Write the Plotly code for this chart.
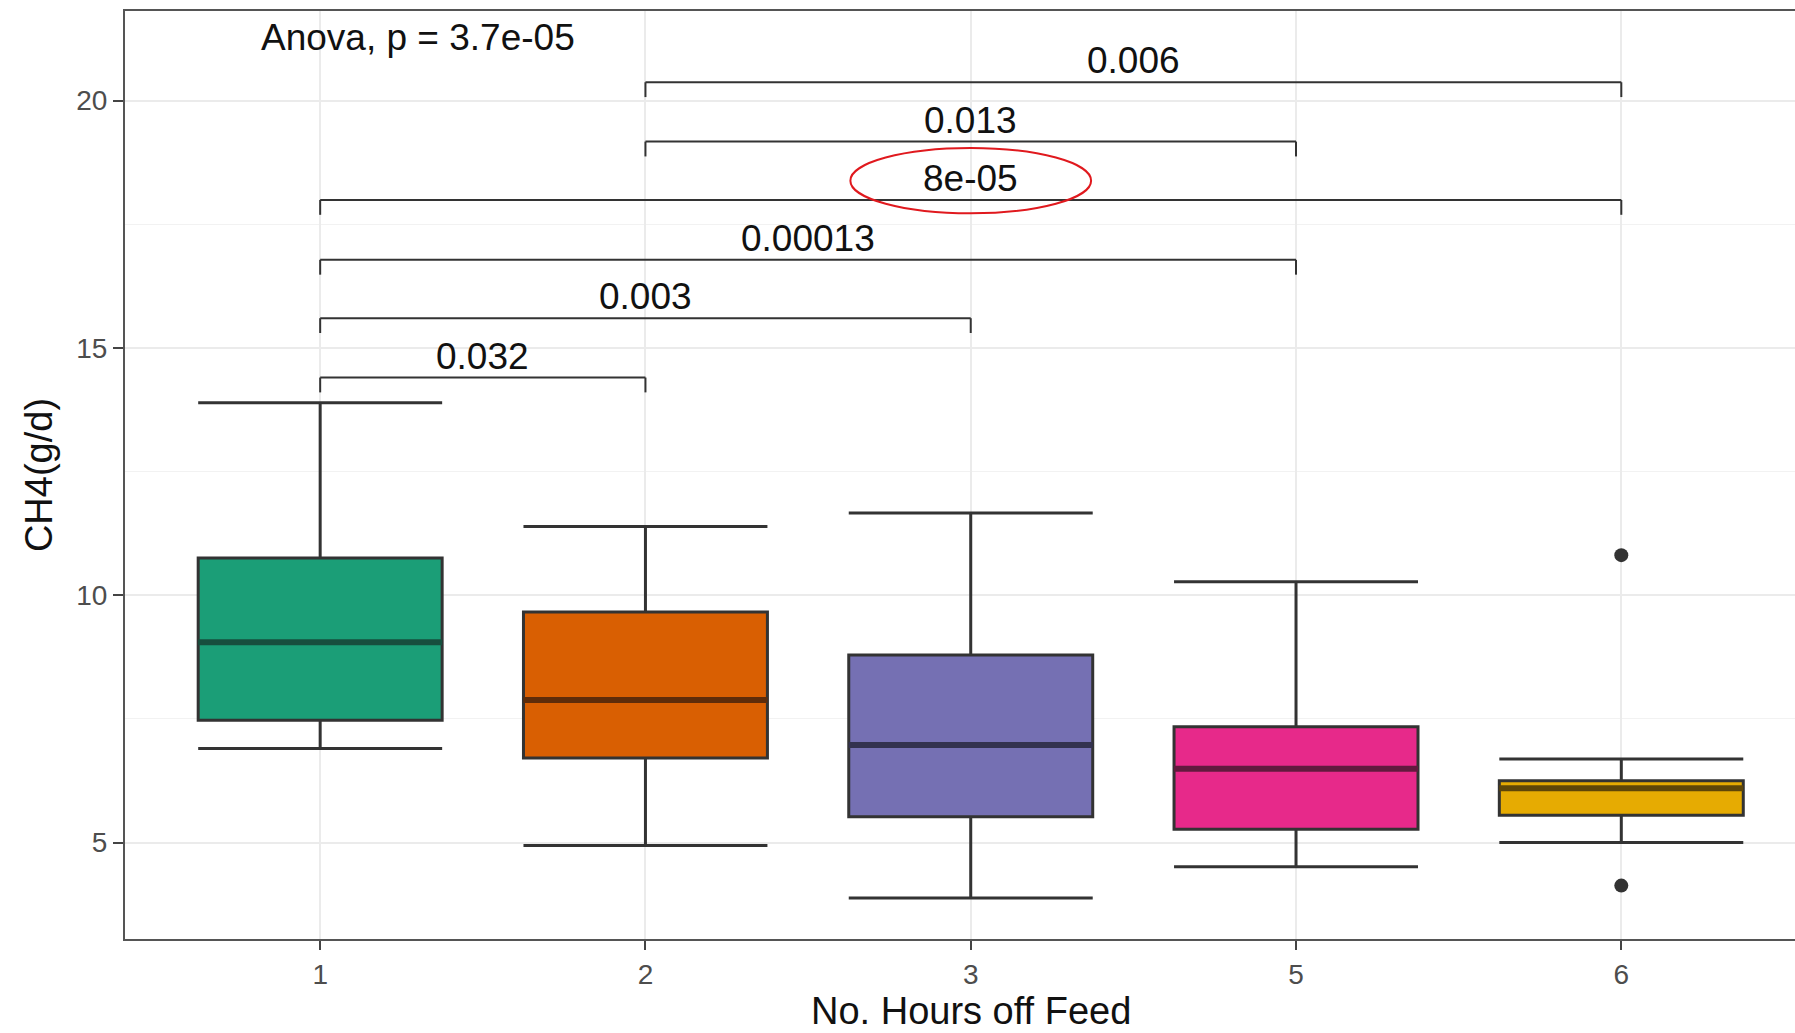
import plotly.graph_objects as go

# ---- data ----
categories = ["1", "2", "3", "5", "6"]
q1 = [7.47, 6.71, 5.52, 5.27, 5.55]
median = [9.05, 7.88, 6.97, 6.49, 6.10]
q3 = [10.75, 9.66, 8.79, 7.34, 6.25]
lower_whisker = [6.90, 4.94, 3.88, 4.51, 5.00]
upper_whisker = [13.89, 11.39, 11.66, 10.27, 6.69]
fill_colors = ["#1B9E77", "#D95F02", "#7570B3", "#E7298A", "#E6AB02"]
median_colors = ["#174F3E", "#5E2C0A", "#33324F", "#621A3E", "#5E4608"]

outlier_group = ["6", "6"]
outlier_values = [10.81, 4.13]

# pairwise comparisons: (group a, group b, bracket height, label)
cmp_a = ["1", "1", "1", "1", "2", "2"]
cmp_b = ["2", "3", "5", "6", "5", "6"]
cmp_y = [14.40, 15.60, 16.78, 17.99, 19.17, 20.37]
cmp_label = ["0.032", "0.003", "0.00013", "8e-05", "0.013", "0.006"]
highlight_label = "8e-05"

anova_text = "Anova, p = 3.7e-05"
x_title = "No. Hours off Feed"
y_title = "CH4(g/d)"

pos = {c: i + 1 for i, c in enumerate(categories)}
box_width = 0.75
tip = 0.3

fig = go.Figure()

for i, c in enumerate(categories):
    x = pos[c]
    fig.add_trace(go.Box(
        x=[x], q1=[q1[i]], median=[median[i]], q3=[q3[i]],
        lowerfence=[lower_whisker[i]], upperfence=[upper_whisker[i]],
        width=box_width, whiskerwidth=1,
        fillcolor=fill_colors[i],
        line=dict(color="#333333", width=3),
        boxpoints=False, showlegend=False, hoverinfo="skip",
    ))
    fig.add_trace(go.Scatter(
        x=[x - box_width / 2, x + box_width / 2], y=[median[i], median[i]],
        mode="lines", line=dict(color=median_colors[i], width=6),
        showlegend=False, hoverinfo="skip",
    ))

fig.add_trace(go.Scatter(
    x=[pos[g] for g in outlier_group], y=outlier_values, mode="markers",
    marker=dict(color="#333333", size=14), showlegend=False, hoverinfo="skip",
))

font_family = "Liberation Sans, Arial, sans-serif"
shapes = []
annotations = []
for a, b, yv, lab in zip(cmp_a, cmp_b, cmp_y, cmp_label):
    xa, xb = pos[a], pos[b]
    line = dict(color="#333333", width=2)
    shapes.append(dict(type="line", xref="x", yref="y", x0=xa, x1=xb, y0=yv, y1=yv, line=line))
    shapes.append(dict(type="line", xref="x", yref="y", x0=xa, x1=xa, y0=yv, y1=yv - tip, line=line))
    shapes.append(dict(type="line", xref="x", yref="y", x0=xb, x1=xb, y0=yv, y1=yv - tip, line=line))
    annotations.append(dict(x=(xa + xb) / 2, y=yv + 0.43, xref="x", yref="y",
                            text=lab, showarrow=False, xanchor="center", yanchor="middle",
                            font=dict(size=37, color="#111111", family=font_family)))
    if lab == highlight_label:
        xm = (xa + xb) / 2
        shapes.append(dict(type="circle", xref="x", yref="y",
                           x0=xm - 0.37, x1=xm + 0.37, y0=yv - 0.27, y1=yv + 1.05,
                           line=dict(color="#E0191E", width=2)))

annotations.append(dict(x=1.3, y=21.27, xref="x", yref="y", text=anova_text,
                        showarrow=False, xanchor="center", yanchor="middle",
                        font=dict(size=37, color="#111111", family=font_family)))

# x-axis title centred on the full (ggplot) panel, i.e. the middle category
annotations.append(dict(x=pos[categories[len(categories) // 2]], y=-0.078, xref="x", yref="paper",
                        text=x_title, showarrow=False, xanchor="center", yanchor="middle",
                        font=dict(size=38, color="#111111", family=font_family)))

fig.update_layout(
    width=1795, height=1033,
    margin=dict(l=125, r=0, t=11, b=94),
    paper_bgcolor="white", plot_bgcolor="white",
    boxmode="overlay",
    font=dict(family=font_family),
    shapes=shapes, annotations=annotations,
    xaxis=dict(
        range=[0.4, 5.534], tickmode="array",
        tickvals=[pos[c] for c in categories], ticktext=categories,
        ticks="outside", ticklen=9, tickwidth=2, tickcolor="#444444",
        tickfont=dict(size=28, color="#4D4D4D"),
        showgrid=True, gridcolor="#EBEBEB", gridwidth=2,
        showline=True, linecolor="#555555", linewidth=2, mirror=True,
        zeroline=False,
    ),
    yaxis=dict(
        range=[3.05, 21.81], tickmode="array", tickvals=[5, 10, 15, 20],
        ticks="outside", ticklen=10, tickwidth=2, tickcolor="#444444",
        tickfont=dict(size=28, color="#4D4D4D"),
        showgrid=True, gridcolor="#EBEBEB", gridwidth=2,
        minor=dict(tickvals=[7.5, 12.5, 17.5], showgrid=True, gridcolor="#F2F2F2", gridwidth=1),
        showline=True, linecolor="#555555", linewidth=2,
        zeroline=False,
        title=dict(text=y_title, font=dict(size=38, color="#111111"), standoff=12),
    ),
)

fig.write_html("out.html")
